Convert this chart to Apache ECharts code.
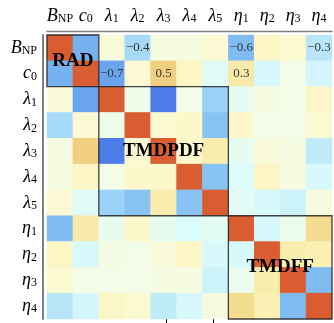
<!DOCTYPE html>
<html>
<head>
<meta charset="utf-8">
<script src="https://cdn.jsdelivr.net/npm/echarts@6/dist/echarts.min.js"></script>
<style>html,body{margin:0;padding:0;background:#fff;}#c{width:334px;height:323px;}</style>
</head>
<body>
<div id="c"></div>
<script>
// Parameter names (main symbol _ subscript)
const categories = ['B_NP','c_0','λ_1','λ_2','λ_3','λ_4','λ_5','η_1','η_2','η_3','η_4'];

// Correlation matrix rows
const rowB   = [ 1.00,-0.65, 0.05,-0.40, 0.02, 0.02, 0.07,-0.60, 0.12, 0.08,-0.30];
const rowC0  = [-0.65, 1.00,-0.70, 0.07, 0.50, 0.12,-0.08, 0.30,-0.12, 0.00,-0.15];
const rowL1  = [ 0.05,-0.70, 1.00,-0.02,-0.84, 0.00,-0.45,-0.05, 0.02, 0.00, 0.12];
const rowL2  = [-0.40, 0.07,-0.02, 1.00, 0.08, 0.10,-0.55, 0.10, 0.00, 0.00, 0.08];
const rowL3  = [ 0.02, 0.50,-0.84, 0.08, 1.00, 0.10, 0.25,-0.05, 0.05, 0.02,-0.25];
const rowL4  = [ 0.02, 0.12, 0.00, 0.10, 0.10, 1.00,-0.55,-0.10, 0.12, 0.02,-0.12];
const rowL5  = [ 0.07,-0.08,-0.45,-0.55, 0.25,-0.55, 1.00,-0.07,-0.12,-0.18, 0.03];
const rowE1  = [-0.60, 0.30,-0.05, 0.10,-0.05,-0.10,-0.07, 1.00,-0.12,-0.03, 0.40];
const rowE2  = [ 0.12,-0.12, 0.02, 0.00, 0.05, 0.12,-0.12,-0.12, 1.00, 0.25, 0.20];
const rowE3  = [ 0.08, 0.00, 0.00, 0.00, 0.02, 0.02,-0.18,-0.03, 0.25, 1.00,-0.60];
const rowE4  = [-0.30,-0.15, 0.12, 0.08,-0.25,-0.12, 0.03, 0.40, 0.20,-0.60, 1.00];
const matrix = [rowB,rowC0,rowL1,rowL2,rowL3,rowL4,rowL5,rowE1,rowE2,rowE3,rowE4];

// Blocks: [first index, last index, name]
const blockStart = [0, 2, 7];
const blockEnd   = [1, 6, 10];
const blockNames = ['RAD','TMDPDF','TMDFF'];

const cmap = ['#3a5ce0','#4470e6','#5486ec','#6aa4ee','#80bcf2','#90caf6','#a6daf8','#b8e6f8','#c8f0fa','#dcfbfb',
              '#f2fce6','#fdf8cc','#faf0b4','#f8eaa8','#f4dc90','#f0d080','#ecb870','#e8a060','#e48850','#de7040','#d95d30'];

const heatData = [];
matrix.forEach((row, i) => row.forEach((v, j) => heatData.push([j, i, v])));
const blockData = blockStart.map((s, k) => [s, blockEnd[k], blockNames[k]]);

const serif = 'Liberation Serif';
const axisRich = {
  m: {fontFamily: serif, fontStyle: 'italic', fontSize: 18, color: '#000', lineHeight: 18},
  s: {fontFamily: serif, fontSize: 12, color: '#000', lineHeight: 8, verticalAlign: 'bottom'}
};
function fmtAxis(v) {
  const p = v.split('_');
  return '{m|' + p[0] + '}{s|' + p[1] + '}';
}

const chart = echarts.init(document.getElementById('c'));
chart.setOption({
  animation: false,
  grid: {left: 47, top: 35, right: 2, bottom: 4},
  xAxis: {
    type: 'category', data: categories, position: 'top', offset: 4,
    axisLine: {lineStyle: {color: '#808080', width: 1.4}},
    axisTick: {inside: true, alignWithLabel: true, length: 3, lineStyle: {color: '#333', width: 1}},
    axisLabel: {formatter: fmtAxis, rich: axisRich, margin: 6, interval: 0},
    splitLine: {show: false}
  },
  yAxis: {
    type: 'category', data: categories, inverse: true, offset: 4,
    axisLine: {lineStyle: {color: '#808080', width: 2}},
    axisTick: {inside: true, alignWithLabel: true, length: 3, lineStyle: {color: '#333', width: 1}},
    axisLabel: {formatter: fmtAxis, rich: axisRich, margin: 6, interval: 0},
    splitLine: {show: false}
  },
  visualMap: {show: false, min: -1, max: 1, dimension: 2, seriesIndex: 0, inRange: {color: cmap}},
  series: [{
    type: 'heatmap',
    data: heatData,
    itemStyle: {borderWidth: 0},
    label: {
      show: true,
      fontFamily: serif, fontSize: 13, color: '#333',
      formatter: function (p) {
        const x = p.value[0], y = p.value[1], v = p.value[2];
        if (y <= 1 && x >= 2 && Math.abs(v) >= 0.3) return v.toFixed(1).replace('-', '\u2212');
        return '';
      }
    },
    emphasis: {disabled: true}
  }, {
    type: 'custom',
    data: blockData,
    z: 5,
    silent: true,
    renderItem: function (params, api) {
      const s = api.value(0), e = api.value(1);
      const p0 = api.coord([s, s]);
      const sz = api.size([1, 1]);
      const x = p0[0] - sz[0] / 2, y = p0[1] - sz[1] / 2;
      const w = (e - s + 1) * sz[0], h = (e - s + 1) * sz[1];
      return {
        type: 'group',
        children: [
          {type: 'rect', shape: {x: x, y: y, width: w, height: h},
           style: {fill: 'none', stroke: '#222', lineWidth: 1.3, opacity: 0.85}},
          {type: 'text', x: x + w / 2, y: y + h / 2,
           style: {text: blockNames[params.dataIndex], fontFamily: serif, fontWeight: 'bold', fontSize: 19,
                   fill: '#000', align: 'center', verticalAlign: 'middle'}}
        ]
      };
    }
  }],
  graphic: [{
    type: 'group', left: 166, top: 300, z: 10,
    children: [
      {type: 'rect', shape: {x: 0, y: 0, width: 47, height: 30}, style: {fill: '#fff', stroke: '#000', lineWidth: 1}},
      {type: 'text', x: 5, y: 14, style: {text: 'SV19', fontFamily: serif, fontSize: 16, fill: '#000', verticalAlign: 'middle'}}
    ]
  }]
});
</script>
</body>
</html>
